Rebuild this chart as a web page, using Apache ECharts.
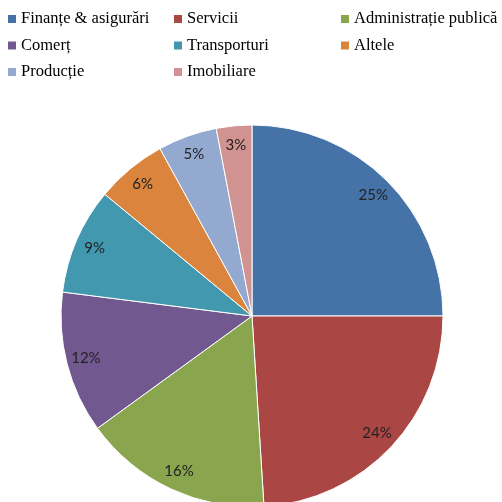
<!DOCTYPE html>
<html>
<head>
<meta charset="utf-8">
<script src="https://cdn.jsdelivr.net/npm/echarts@6/dist/echarts.min.js"></script>
<style>
  html, body { margin: 0; padding: 0; background: #fff; }
  #chart { width: 502px; height: 502px; }
</style>
</head>
<body>
<div id="chart"></div>
<script>
// categorii si valori (%)
const categories = ['Finanțe & asigurări', 'Servicii', 'Administrație publică', 'Comerț',
                    'Transporturi', 'Altele', 'Producție', 'Imobiliare'];
const values = [25, 24, 16, 12, 9, 6, 5, 3];
const colors = ['#4572A7', '#AA4643', '#89A54E', '#71588F', '#4198AF', '#DB843D', '#93A9CF', '#D19392'];

// coloanele legendei
const legendCols = [
    ['Finanțe & asigurări', 'Comerț', 'Producție'],
    ['Servicii', 'Transporturi', 'Imobiliare'],
    ['Administrație publică', 'Altele']
];
const legendLeft = [8, 174, 341];

let pieData = [];
for (let i = 0; i < categories.length; i++) {
    pieData.push({ name: categories[i], value: values[i] });
}

const legends = legendCols.map(function (col, i) {
    return {
        orient: 'vertical',
        left: legendLeft[i],
        top: 10,
        padding: 0,
        itemWidth: 8,
        itemHeight: 8,
        itemGap: 8.5,
        icon: 'rect',
        selectedMode: false,
        itemStyle: { borderWidth: 0 },
        data: col,
        textStyle: {
            fontFamily: 'Liberation Serif',
            fontSize: 16.5,
            lineHeight: 18,
            color: '#000'
        }
    };
});

const chart = echarts.init(document.getElementById('chart'));
chart.setOption({
    animation: false,
    color: colors,
    legend: legends,
    series: [
        {
            type: 'pie',
            center: [252, 316],
            radius: 191,
            startAngle: 90,
            data: pieData,
            label: { show: false },
            labelLine: { show: false },
            itemStyle: { borderColor: '#fff', borderWidth: 1 },
            emphasis: { disabled: true }
        },
        {   // serie invizibila doar pentru etichete
            type: 'pie',
            center: [252, 316],
            radius: [146, 191],
            startAngle: 90,
            silent: true,
            data: pieData,
            itemStyle: { color: 'transparent' },
            label: {
                show: true,
                position: 'inside',
                formatter: '{c}%',
                fontFamily: 'Lato',
                fontSize: 15,
                color: '#222'
            },
            labelLine: { show: false },
            emphasis: { disabled: true }
        }
    ]
});
</script>
</body>
</html>
